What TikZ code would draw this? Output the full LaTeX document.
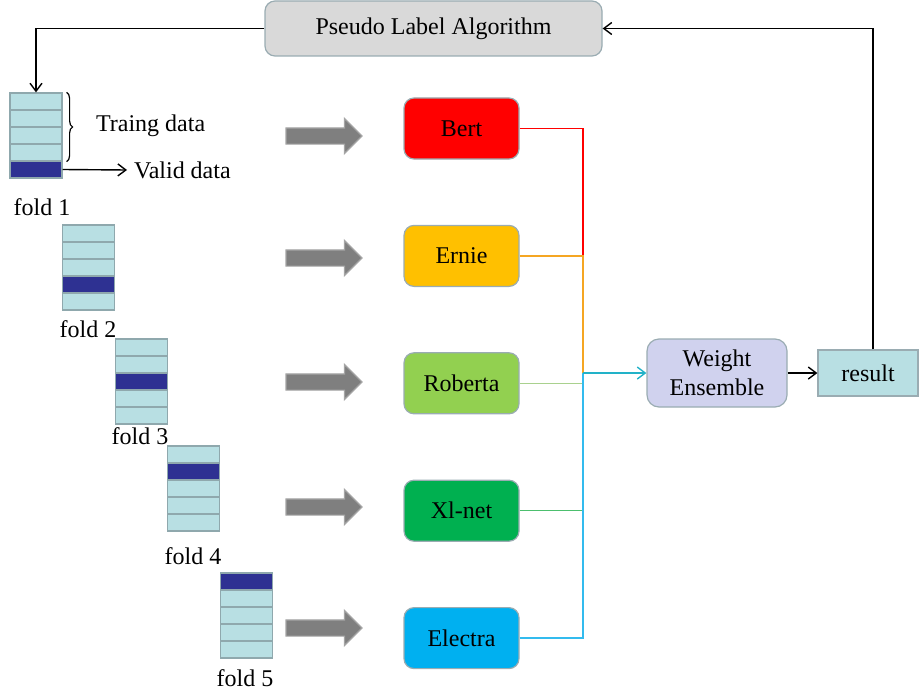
\documentclass[tikz,border=0pt]{standalone}
\usepackage{fontspec}
\setmainfont{Liberation Serif}
\usetikzlibrary{shapes, arrows.meta, positioning, decorations.pathreplacing}

\definecolor{cellblue}{HTML}{B8DFE3}
\definecolor{cellnavy}{HTML}{2E3192}
\definecolor{cellborder}{HTML}{8FA8AD}
\definecolor{boxborder}{HTML}{9AACB2}
\definecolor{pseudogray}{HTML}{D9D9D9}
\definecolor{weightlav}{HTML}{D0D2EE}
\definecolor{bertred}{HTML}{FF0000}
\definecolor{ernieyel}{HTML}{FFC000}
\definecolor{robgreen}{HTML}{92D050}
\definecolor{xlgreen}{HTML}{00B050}
\definecolor{elecblue}{HTML}{00B0F0}
\definecolor{ernieline}{HTML}{F5A623}
\definecolor{robline}{HTML}{A9D18E}
\definecolor{xlline}{HTML}{4CBF6E}
\definecolor{elecline}{HTML}{33BBEE}
\definecolor{trunkline}{HTML}{22B2C8}
\definecolor{blockgray}{HTML}{7F7F7F}
\definecolor{blockborder}{HTML}{A5A5A5}

\begin{document}
\begin{tikzpicture}[
    x=0.5pt, y=-0.5pt,
    node distance=32.6pt,
    >={Straight Barb[length=4pt, width=6pt]},
    txt/.style={font=\fontsize{12}{14.5}\selectfont},
    model/.style={rectangle, rounded corners=5pt, minimum width=57.5pt, minimum height=30.5pt, draw=boxborder, line width=0.6pt, txt},
    cell/.style={rectangle, minimum width=26pt, minimum height=8.5pt, inner sep=0pt, draw=cellborder, line width=0.6pt},
    block/.style={single arrow, fill=blockgray, draw=blockborder, line width=0.6pt, inner xsep=0pt, inner ysep=3.75pt, single arrow head extend=4.75pt, single arrow tip angle=90, minimum height=38pt},
    line/.style={draw, line width=0.7pt}
]
\useasboundingbox (0,0) rectangle (919,690);

% Pseudo label box
\node[rectangle, rounded corners=5pt, minimum width=168.5pt, minimum height=27.5pt, draw=boxborder, line width=0.6pt, fill=pseudogray, txt] (pseudo) at (433.5,28.5) {Pseudo Label Algorithm};

% Folds
\foreach \i/\x/\y/\d/\lx/\ly in {1/36/93/5/42/207, 2/88.5/225/4/88/329, 3/141.5/339/3/140/436, 4/193.5/446/2/193/556, 5/246.5/573/1/245/678} {
    \foreach \j in {1,...,5} {
        \ifnum\j=\d \def\cellcol{cellnavy}\else\def\cellcol{cellblue}\fi
        \node[cell, fill=\cellcol] (fold\i-\j) at (\x,\y+\j*17-8.5) {};
    }
    \node[txt] (lab\i) at (\lx,\ly) {fold \i};
}

% Fold 1 notes
\draw[line width=0.6pt, decorate, decoration={brace, amplitude=3pt}] ([xshift=2pt]fold1-1.north east) -- ([xshift=2pt]fold1-4.south east);
\node[txt, anchor=west] (train) at (89,126) {Traing data};
\node[txt, anchor=west] (valid) at (127,170) {Valid data};
\draw[line, ->] (fold1-5.east) -- (valid.west);

% Block arrows
\foreach \i/\y in {1/136, 2/258, 3/382, 4/507, 5/628}
    \node[block] (arr\i) at (320,\y) {};

% Models
\node[model, fill=bertred] (bert) at (461.5,128.5) {Bert};
\node[model, fill=ernieyel, below=of bert] (ernie) {Ernie};
\node[model, fill=robgreen, below=of ernie] (roberta) {Roberta};
\node[model, fill=xlgreen, below=of roberta] (xlnet) {Xl-net};
\node[model, fill=elecblue, below=of xlnet] (electra) {Electra};

% Ensemble and result
\node[rectangle, rounded corners=6pt, minimum width=70pt, minimum height=34pt, draw=boxborder, line width=0.6pt, fill=weightlav, align=center, txt] (weight) at (717,373) {Weight\\Ensemble};
\node[rectangle, minimum width=50pt, minimum height=23pt, draw=boxborder, line width=0.6pt, fill=cellblue, txt] (result) at (868,373) {result};
\coordinate (junc) at (583,373);

% Draw lines
\draw[line, bertred] (bert.east) -| (junc);
\draw[line, ernieline] (ernie.east) -| (junc);
\draw[line, robline] (roberta.east) -| (junc);
\draw[line, xlline] (xlnet.east) -| (junc);
\draw[line, elecline] (electra.east) -| (junc);
\draw[line, trunkline, ->] (junc) -- (weight);
\draw[line, ->] (weight) -- (result);
\draw[line, ->] ([xshift=2.5pt]result.north) |- (pseudo.east);
\draw[line, ->] (pseudo.west) -| (fold1-1.north);
\end{tikzpicture}
\end{document}
